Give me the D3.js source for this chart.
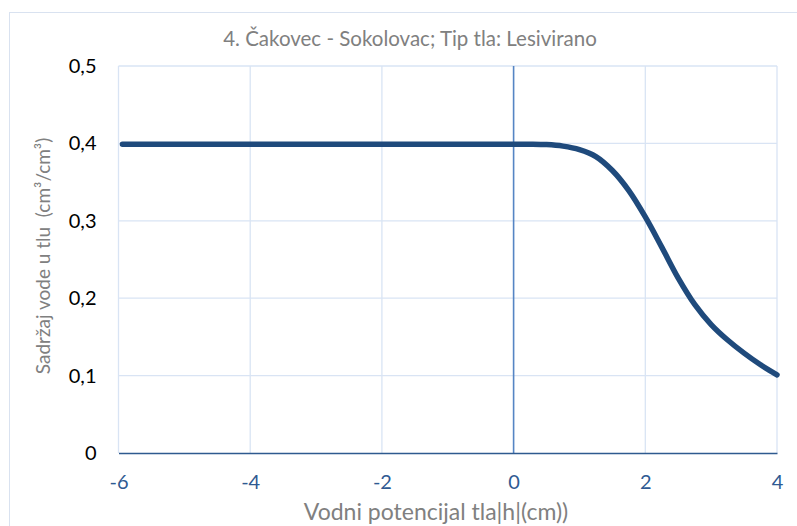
<!DOCTYPE html>
<html>
<head>
<meta charset="utf-8">
<script src="https://cdn.jsdelivr.net/npm/d3@7"></script>
<style>
  body { margin: 0; background: #fff; }
  text { font-family: Lato, "Open Sans", sans-serif; }
</style>
</head>
<body>
<svg id="chart" width="797" height="526"></svg>
<script>
// curve
var potential = [-5.94, -4, -2, 0, 0.25, 0.5, 0.75, 1, 1.25, 1.5, 1.75, 2, 2.25, 2.5, 2.75, 3, 3.25, 3.5, 3.75, 4];
var content   = [0.399, 0.399, 0.399, 0.399, 0.399, 0.3985, 0.3965, 0.392, 0.383, 0.365, 0.339, 0.305, 0.266, 0.226, 0.192, 0.166, 0.146, 0.129, 0.114, 0.101];
var xTicks = [-6, -4, -2, 0, 2, 4];
var yTicks = [0, 0.1, 0.2, 0.3, 0.4, 0.5];

var svg = d3.select("#chart");

var x = d3.scaleLinear().domain([-6, 4]).range([118.5, 777]);
var y = d3.scaleLinear().domain([0, 0.5]).range([453, 66]);
var fmt = function(d) { return d === 0 ? "0" : String(d).replace(".", ","); };

// chart area border
svg.append("rect")
    .attr("x", 9.5).attr("y", 12.5)
    .attr("width", 800).attr("height", 530)
    .attr("fill", "none")
    .attr("stroke", "#d9e2f0");

// gridlines
svg.append("g").selectAll("line")
    .data(yTicks.filter(function(d) { return d > 0; }))
    .enter().append("line")
    .attr("x1", x(-6)).attr("x2", x(4))
    .attr("y1", function(d) { return y(d); })
    .attr("y2", function(d) { return y(d); })
    .attr("stroke", "#d9e4f4").attr("stroke-width", 1.3);

svg.append("g").selectAll("line")
    .data(xTicks.filter(function(d) { return d !== 0; }))
    .enter().append("line")
    .attr("x1", function(d) { return x(d); })
    .attr("x2", function(d) { return x(d); })
    .attr("y1", y(0)).attr("y2", y(0.5))
    .attr("stroke", "#d9e4f4").attr("stroke-width", 1.3);

// vertical axis crosses at 0
svg.append("line")
    .attr("x1", x(0)).attr("x2", x(0))
    .attr("y1", y(0)).attr("y2", y(0.5))
    .attr("stroke", "#5585c4").attr("stroke-width", 1.6);

// horizontal axis
var xAxis = svg.append("g")
    .attr("transform", "translate(0," + y(0) + ")")
    .call(d3.axisBottom(x).tickValues(xTicks).tickSize(0).tickPadding(22).tickFormat(fmt));
xAxis.select(".domain").attr("stroke", "#2e5a8f").attr("stroke-width", 1.6);
xAxis.selectAll("text")
    .attr("fill", "#2f5a92")
    .attr("dy", "0.32em")
    .attr("y", 30)
    .style("font-size", "20px");

// y tick labels
var yAxis = svg.append("g")
    .attr("transform", "translate(" + x(-6) + ",0)")
    .call(d3.axisLeft(y).tickValues(yTicks).tickSize(0).tickPadding(22).tickFormat(fmt));
yAxis.select(".domain").remove();
yAxis.selectAll("text")
    .attr("fill", "#000")
    .style("font-size", "20px");

// curve
var pts = potential.map(function(d, i) { return [d, content[i]]; });
svg.append("path")
    .datum(pts)
    .attr("fill", "none")
    .attr("stroke", "#1f4a7c")
    .attr("stroke-width", 5.5)
    .attr("stroke-linecap", "round")
    .attr("d", d3.line()
        .x(function(d) { return x(d[0]); })
        .y(function(d) { return y(d[1]); })
        .curve(d3.curveCatmullRom));

// title
svg.append("text")
    .attr("x", 410).attr("y", 46)
    .attr("text-anchor", "middle")
    .attr("fill", "#808080")
    .style("font-size", "20.5px")
    .text("4. Čakovec - Sokolovac; Tip tla: Lesivirano");

// x axis label
svg.append("text")
    .attr("x", 436).attr("y", 520)
    .attr("text-anchor", "middle")
    .attr("fill", "#808080")
    .style("font-size", "23px")
    .text("Vodni potencijal tla|h|(cm))");

// y axis label
svg.append("text")
    .attr("transform", "translate(50,256) rotate(-90)")
    .attr("text-anchor", "middle")
    .attr("fill", "#808080")
    .attr("xml:space", "preserve")
    .style("white-space", "pre")
    .style("font-size", "19px")
    .text("Sadržaj vode u tlu  (cm³/cm³)");
</script>
</body>
</html>
